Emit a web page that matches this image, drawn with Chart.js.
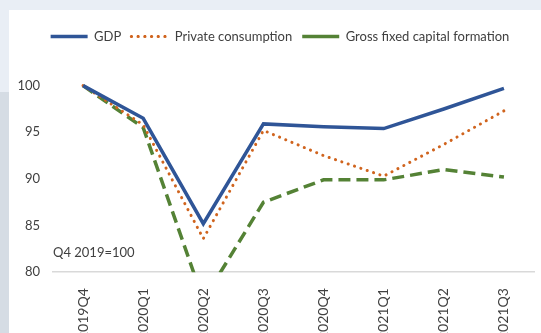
<!DOCTYPE html>
<html>
<head>
<meta charset="utf-8">
<script src="https://cdn.jsdelivr.net/npm/chart.js@4"></script>
<style>
  html, body { margin: 0; padding: 0; width: 541px; height: 333px; overflow: hidden; background: #e9eef5; }
  #side { position: absolute; left: 0; top: 92px; width: 9px; height: 260px; background: #d5dce4; }
  #panel { position: absolute; left: 9px; top: 10px; width: 532px; height: 338px; background: #fff; }
</style>
</head>
<body>
<div id="side"></div>
<div id="panel"><canvas id="grafico" width="532" height="338"></canvas></div>
<script>
const TRIMESTRES = ["2019Q4", "2020Q1", "2020Q2", "2020Q3", "2020Q4", "2021Q1", "2021Q2", "2021Q3"];
const PIB = [100, 96.5, 85.2, 95.9, 95.6, 95.4, 97.5, 99.7];
const CONSUMO_PRIVADO = [100, 95.8, 83.6, 95.2, 92.5, 90.3, 93.7, 97.3];
const FBCF = [100, 95.5, 77, 87.5, 89.9, 89.9, 91.0, 90.2];
const TICKS_Y = [80, 85, 90, 95, 100];

const FONTE = "Lato";
const COR_TEXTO = "#404040";

// texto "Q4 2019=100" no canto inferior esquerdo + legenda um pouco à direita
const notaBase = {
  id: "notaBase",
  afterLayout(chart) {
    chart.legend.left += 4.5;
    chart.legend.right += 4.5;
  },
  afterDraw(chart) {
    const ctx = chart.ctx;
    const y = chart.scales.y;
    ctx.save();
    ctx.font = "13px " + FONTE;
    ctx.fillStyle = COR_TEXTO;
    ctx.textBaseline = "middle";
    ctx.fillText("Q4 2019=100", chart.chartArea.left, y.getPixelForValue(82.1));
    ctx.restore();
  },
};

function serie(label, dados, cor, extra) {
  return Object.assign(
    {
      label: label,
      data: dados,
      borderColor: cor,
      backgroundColor: cor,
      borderWidth: 3.5,
      pointRadius: 0,
      tension: 0,
      fill: false,
      clip: { left: false, top: false, right: false, bottom: 0 },
    },
    extra || {},
  );
}

new Chart(document.getElementById("grafico").getContext("2d"), {
  type: "line",
  data: {
    labels: TRIMESTRES,
    datasets: [
      serie("GDP", PIB, "#2f5597"),
      serie("Private consumption", CONSUMO_PRIVADO, "#d0641e", {
        borderWidth: 3,
        borderDash: [0.1, 6.6],
        borderCapStyle: "round",
      }),
      serie("Gross fixed capital formation", FBCF, "#548235", {
        borderDash: [12, 6],
      }),
    ],
  },
  options: {
    responsive: false,
    animation: false,
    layout: { padding: { top: 10, right: 7, left: 8, bottom: 0 } },
    plugins: {
      legend: {
        position: "top",
        labels: {
          color: COR_TEXTO,
          font: { family: FONTE, size: 13 },
          boxWidth: 37,
          boxHeight: 0,
          padding: 10,
        },
      },
      tooltip: { enabled: false },
    },
    scales: {
      y: {
        min: 80,
        max: 103.5,
        afterBuildTicks(escala) {
          escala.ticks = TICKS_Y.map((v) => ({ value: v }));
        },
        afterFit(escala) {
          escala.width = 36;
        },
        grid: { display: false, drawTicks: false, tickLength: 0 },
        border: { display: false },
        ticks: {
          color: COR_TEXTO,
          font: { family: FONTE, size: 13 },
          padding: 13,
        },
      },
      x: {
        offset: true,
        grid: { display: false },
        border: { display: true, color: "#d9d9d9", width: 1.5 },
        ticks: {
          color: COR_TEXTO,
          font: { family: FONTE, size: 14 },
          minRotation: 90,
          maxRotation: 90,
          padding: 8,
        },
      },
    },
  },
  plugins: [notaBase],
});
</script>
</body>
</html>
